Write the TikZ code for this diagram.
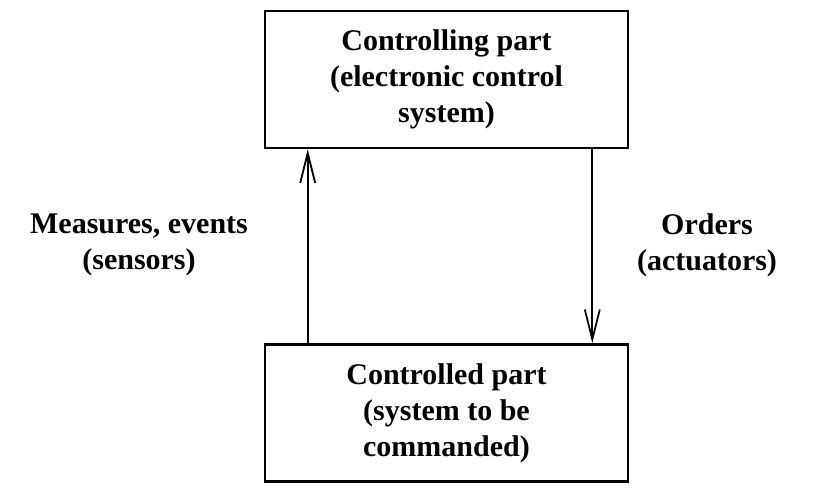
\documentclass[tikz,border=0pt]{standalone}
\usepackage{fontspec}
\setmainfont{Liberation Serif}
\usetikzlibrary{arrows.meta}
\tikzset{
  partbox/.style={draw, line width=2.6pt, minimum width=363pt, minimum height=137pt,
    align=center, font=\fontsize{30}{36}\selectfont\bfseries},
  flowlabel/.style={align=center, font=\fontsize{30}{36}\selectfont\bfseries},
  flowarrow/.style={line width=1.8pt, -{Straight Barb[length=30pt,width=15pt,line width=1.8pt]}}
}
\begin{document}
\begin{tikzpicture}[x=1pt,y=1pt]
\useasboundingbox (0,0) rectangle (832,-498);
\node[partbox] (controlling) at (446.5,-79.5)
{Controlling part\\(electronic control\\system)};
\node[partbox] (controlled) at (446.5,-413)
{Controlled part\\(system to be\\commanded)};
\node[flowlabel] (measures) at (139,-245) {Measures, events\\(sensors)};
\node[flowlabel] (orders) at (707,-245) {Orders\\(actuators)};
\draw[flowarrow] ([xshift=44pt]controlled.north west) -- ([xshift=44pt]controlling.south west);
\draw[flowarrow] ([xshift=-37pt]controlling.south east) -- ([xshift=-37pt]controlled.north east);
\end{tikzpicture}
\end{document}
